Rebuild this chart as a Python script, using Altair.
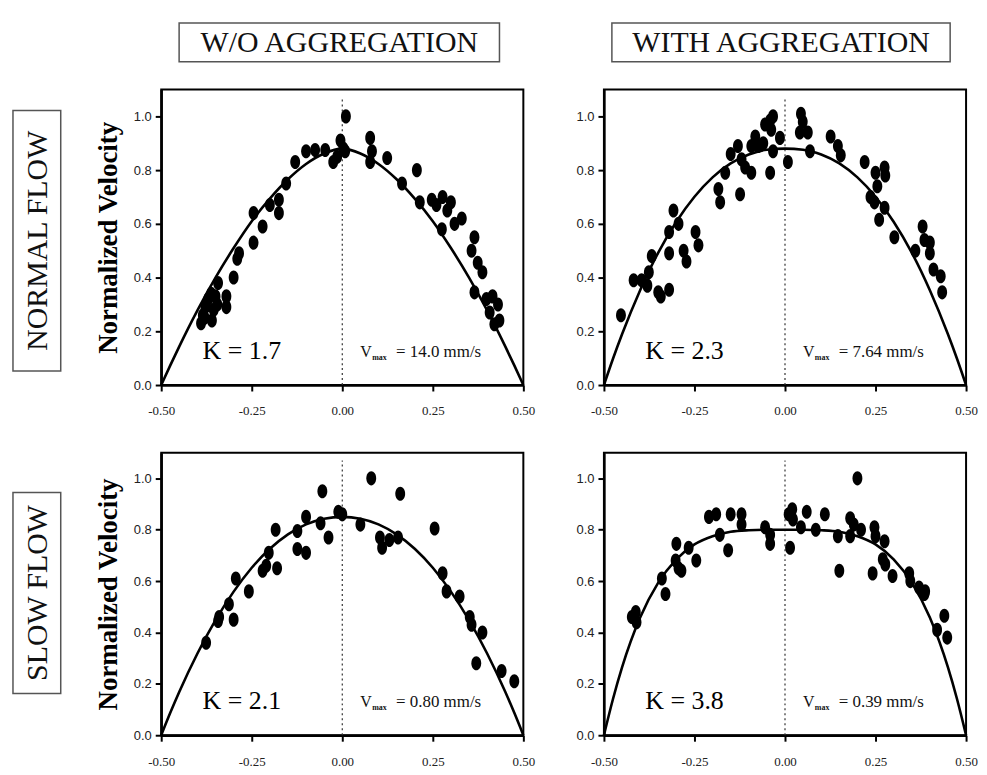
import altair as alt
import pandas as pd

# ---------------- data ----------------
COL_TITLES = ["W/O AGGREGATION", "WITH AGGREGATION"]
ROW_TITLES = ["NORMAL FLOW", "SLOW FLOW"]
K_VALUES = ["1.7", "2.3", "2.1", "3.8"]
VMAX_VALUES = ["14.0", "7.64", "0.80", "0.39"]
X_TICKS = [-0.5, -0.25, 0.0, 0.25, 0.5]
Y_TICKS = [0.0, 0.2, 0.4, 0.6, 0.8, 1.0]

# top-left: normal flow, without aggregation
TL_R = [-0.39, -0.385, -0.378, -0.37, -0.36, -0.355, -0.362, -0.345, -0.38, -0.35,
        -0.343, -0.30, -0.32, -0.32, -0.285, -0.29, -0.245, -0.22, -0.245, -0.20,
        -0.175, -0.175, -0.155, -0.13, -0.10, -0.075, -0.047, -0.025, -0.014, -0.005,
        0.01, 0.008, 0.003, 0.077, 0.082, 0.077, 0.124, 0.165, 0.206, 0.214,
        0.247, 0.26, 0.277, 0.30, 0.29, 0.31, 0.275, 0.33, 0.365, 0.357,
        0.374, 0.387, 0.365, 0.398, 0.415, 0.43, 0.407, 0.434, 0.42]
TL_V = [0.23, 0.26, 0.29, 0.32, 0.24, 0.28, 0.34, 0.30, 0.25, 0.33,
        0.38, 0.40, 0.29, 0.33, 0.49, 0.47, 0.53, 0.59, 0.64, 0.67,
        0.64, 0.69, 0.75, 0.83, 0.87, 0.875, 0.875, 0.83, 0.85, 0.91,
        1.0, 0.87, 0.88, 0.92, 0.87, 0.83, 0.845, 0.75, 0.80, 0.68,
        0.69, 0.67, 0.70, 0.68, 0.65, 0.60, 0.58, 0.62, 0.55, 0.50,
        0.455, 0.42, 0.345, 0.32, 0.33, 0.30, 0.27, 0.24, 0.226]

# top-right: normal flow, with aggregation
TR_R = [-0.453, -0.418, -0.396, -0.38, -0.376, -0.368, -0.35, -0.343, -0.32, -0.32,
        -0.32, -0.308, -0.294, -0.28, -0.272, -0.247, -0.239, -0.184, -0.179, -0.165,
        -0.15, -0.13, -0.124, -0.12, -0.11, -0.093, -0.093, -0.082, -0.074, -0.06,
        -0.055, -0.041, -0.041, -0.038, -0.033, -0.014, -0.033, 0.008, 0.044, 0.049,
        0.041, 0.063, 0.069, 0.126, 0.146, 0.154, 0.22, 0.25, 0.275, 0.277,
        0.255, 0.236, 0.247, 0.275, 0.26, 0.302, 0.38, 0.385, 0.40, 0.36,
        0.40, 0.41, 0.43, 0.434]
TR_V = [0.26, 0.39, 0.39, 0.37, 0.42, 0.48, 0.345, 0.33, 0.355, 0.49,
        0.57, 0.65, 0.60, 0.50, 0.46, 0.57, 0.52, 0.73, 0.68, 0.79,
        0.86, 0.89, 0.71, 0.84, 0.81, 0.89, 0.79, 0.925, 0.89, 0.90,
        0.97, 0.985, 0.79, 0.95, 1.0, 0.92, 0.87, 0.83, 1.01, 0.98,
        0.94, 0.94, 0.87, 0.925, 0.89, 0.855, 0.83, 0.79, 0.81, 0.78,
        0.74, 0.70, 0.68, 0.66, 0.615, 0.55, 0.59, 0.54, 0.53, 0.50,
        0.49, 0.43, 0.405, 0.345]

# bottom-left: slow flow, without aggregation
BL_R = [-0.376, -0.34, -0.343, -0.30, -0.313, -0.294, -0.258, -0.22, -0.21, -0.18,
        -0.203, -0.184, -0.124, -0.124, -0.10, -0.10, -0.06, -0.038, -0.011, -0.055,
        0.0, 0.05, 0.104, 0.11, 0.13, 0.154, 0.08, 0.16, 0.255, 0.277,
        0.288, 0.324, 0.352, 0.357, 0.387, 0.37, 0.44, 0.475]
BL_V = [0.36, 0.46, 0.445, 0.45, 0.51, 0.61, 0.56, 0.64, 0.66, 0.65,
        0.71, 0.80, 0.795, 0.725, 0.71, 0.85, 0.825, 0.77, 0.87, 0.95,
        0.86, 0.82, 0.77, 0.73, 0.76, 0.77, 1.0, 0.94, 0.805, 0.63,
        0.56, 0.54, 0.46, 0.43, 0.40, 0.28, 0.25, 0.21]

# bottom-right: slow flow, with aggregation
BR_R = [-0.423, -0.41, -0.412, -0.33, -0.34, -0.294, -0.286, -0.302, -0.30, -0.266,
        -0.245, -0.21, -0.18, -0.157, -0.19, -0.15, -0.12, -0.12, -0.055, -0.041,
        -0.041, 0.01, 0.014, 0.02, 0.022, 0.044, 0.06, 0.085, 0.11, 0.146,
        0.15, 0.18, 0.19, 0.18, 0.20, 0.21, 0.247, 0.25, 0.275, 0.27,
        0.277, 0.242, 0.297, 0.343, 0.346, 0.37, 0.387, 0.385, 0.44, 0.42,
        0.448]
BR_V = [0.46, 0.44, 0.48, 0.55, 0.61, 0.65, 0.64, 0.68, 0.745, 0.73,
        0.68, 0.85, 0.78, 0.72, 0.86, 0.86, 0.82, 0.86, 0.81, 0.78,
        0.745, 0.86, 0.73, 0.88, 0.84, 0.81, 0.87, 0.80, 0.86, 0.775,
        0.64, 0.845, 0.82, 0.775, 1.0, 0.80, 0.81, 0.775, 0.755, 0.685,
        0.665, 0.63, 0.62, 0.63, 0.60, 0.575, 0.56, 0.55, 0.465, 0.41,
        0.38]

# fitted profiles
CURVE_R = [-0.5, -0.475, -0.45, -0.4, -0.35, -0.3, -0.25, -0.2, -0.15, -0.1, -0.05, 0.0,
           0.05, 0.1, 0.15, 0.2, 0.25, 0.3, 0.35, 0.4, 0.45, 0.475, 0.5]
TL_CURVE = [0.0, 0.073, 0.144, 0.278, 0.400, 0.510, 0.610, 0.694, 0.766, 0.823, 0.862, 0.880,
            0.862, 0.823, 0.766, 0.694, 0.610, 0.510, 0.400, 0.278, 0.144, 0.073, 0.0]
TR_CURVE = [0.0, 0.098, 0.189, 0.353, 0.493, 0.608, 0.701, 0.773, 0.825, 0.858, 0.876, 0.880,
            0.876, 0.858, 0.825, 0.773, 0.701, 0.608, 0.493, 0.353, 0.189, 0.098, 0.0]
BL_CURVE = [0.0, 0.087, 0.169, 0.318, 0.448, 0.559, 0.652, 0.726, 0.782, 0.821, 0.843, 0.850,
            0.843, 0.821, 0.782, 0.726, 0.652, 0.559, 0.448, 0.318, 0.169, 0.087, 0.0]
BR_CURVE = [0.0, 0.141, 0.264, 0.458, 0.594, 0.685, 0.743, 0.775, 0.792, 0.798, 0.800, 0.800,
            0.800, 0.798, 0.792, 0.775, 0.743, 0.685, 0.594, 0.458, 0.264, 0.141, 0.0]

# ---------------- chart ----------------
ELLIPSE = "M0,-1A0.7,1 0 1,1 0,1A0.7,1 0 1,1 0,-1Z"
ONE = pd.DataFrame({"k": [0]})
W = 364
SERIF = "Liberation Serif"


def panel(r, v, curve, k, vmax, h, col, row):
    xs = alt.Scale(domain=[-0.5, 0.5], nice=False, zero=False)
    ys = alt.Scale(domain=[0, 1.1], nice=False)
    xaxis = alt.Axis(values=X_TICKS, labelFlush=False,
                     labelExpr="replace(format(datum.value, '.2f'), '\u2212', '-')")
    yaxis = alt.Axis(values=Y_TICKS, format=".1f", labelFlush=False)
    ytitle = "Normalized Velocity" if col == 0 else None

    pts = alt.Chart(pd.DataFrame({"r": r, "v": v})).mark_point(
        filled=True, shape=ELLIPSE, size=200, color="black", opacity=1
    ).encode(
        x=alt.X("r:Q", scale=xs, axis=xaxis, title=None),
        y=alt.Y("v:Q", scale=ys, axis=yaxis, title=ytitle),
    )
    line = alt.Chart(pd.DataFrame({"r": CURVE_R, "v": curve})).mark_line(
        color="black", strokeWidth=2.6, interpolate="monotone"
    ).encode(x="r:Q", y="v:Q")
    rule = alt.Chart(ONE).mark_rule(color="#333", strokeDash=[2, 3], strokeWidth=1.2).encode(
        x=alt.datum(0.0), y=alt.datum(0.0), y2=alt.datum(1.07)
    )
    ktext = alt.Chart(ONE).mark_text(
        text=f"K = {k}", font=SERIF, fontSize=26, align="center", baseline="alphabetic", color="black"
    ).encode(x=alt.value(81), y=alt.value(h - 26))
    vtext = alt.Chart(ONE).mark_text(
        text="V", font=SERIF, fontSize=16, align="left", baseline="alphabetic", color="#111"
    ).encode(x=alt.value(200), y=alt.value(h - 28))
    vsub = alt.Chart(ONE).mark_text(
        text="max", font=SERIF, fontSize=8, fontWeight="bold", align="left", baseline="alphabetic", color="#111"
    ).encode(x=alt.value(212), y=alt.value(h - 25))
    vval = alt.Chart(ONE).mark_text(
        text=f"= {vmax} mm/s", font=SERIF, fontSize=17, align="left", baseline="alphabetic", color="#111"
    ).encode(x=alt.value(236), y=alt.value(h - 28))

    layers = [rule, line, pts, ktext, vtext, vsub, vval]

    if row == 0:
        bx0, bx1 = (18, 340) if col == 0 else (8, 348)
        hbox = alt.Chart(ONE).mark_rect(fill="white", stroke="#555", strokeWidth=1.5).encode(
            x=alt.value(bx0), x2=alt.value(bx1), y=alt.value(-67), y2=alt.value(-28)
        )
        htext = alt.Chart(ONE).mark_text(
            text=COL_TITLES[col], font=SERIF, fontSize=30, align="center", baseline="middle", color="#111"
        ).encode(x=alt.value((bx0 + bx1) / 2), y=alt.value(-47))
        layers += [hbox, htext]

    if col == 0:
        ry0, ry1 = (21, 283) if row == 0 else (40, 242)
        rbox = alt.Chart(ONE).mark_rect(fill="white", stroke="#555", strokeWidth=1.5).encode(
            x=alt.value(-149), x2=alt.value(-101), y=alt.value(ry0), y2=alt.value(ry1)
        )
        rtext = alt.Chart(ONE).mark_text(
            text=ROW_TITLES[row], font=SERIF, fontSize=30, align="center", baseline="middle",
            angle=270, color="#111"
        ).encode(x=alt.value(-124), y=alt.value((ry0 + ry1) / 2))
        layers += [rbox, rtext]

    return alt.layer(*layers).properties(width=W, height=h)


TL = panel(TL_R, TL_V, TL_CURVE, K_VALUES[0], VMAX_VALUES[0], 297, 0, 0)
TR = panel(TR_R, TR_V, TR_CURVE, K_VALUES[1], VMAX_VALUES[1], 297, 1, 0)
BL = panel(BL_R, BL_V, BL_CURVE, K_VALUES[2], VMAX_VALUES[2], 284, 0, 1)
BR = panel(BR_R, BR_V, BR_CURVE, K_VALUES[3], VMAX_VALUES[3], 284, 1, 1)

chart = alt.concat(
    TL, TR, BL, BR, columns=2, bounds="flush", spacing={"row": 68, "column": 81}
).properties(
    padding={"left": 3, "top": 11, "right": 0, "bottom": 0},
    background="white",
).configure_view(
    stroke="black", strokeWidth=2
).configure_axis(
    domainColor="black", domainWidth=2.5, tickColor="black", tickWidth=2, tickSize=6,
    grid=False, labelColor="#222", titleColor="black"
).configure_axisX(
    labelFont=SERIF, labelFontSize=13, labelPadding=14
).configure_axisY(
    labelFont="Liberation Sans", labelFontSize=13, labelPadding=4,
    titleFont=SERIF, titleFontSize=27, titleFontWeight="bold", titlePadding=11
)

chart.save("out.html", embed_options={"renderer": "svg", "actions": False})
